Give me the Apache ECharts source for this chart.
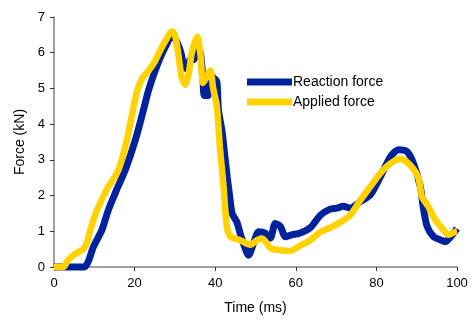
<!DOCTYPE html>
<html>
<head>
<meta charset="utf-8">
<script src="https://cdn.jsdelivr.net/npm/echarts@6/dist/echarts.min.js"></script>
<style>
  html, body { margin: 0; padding: 0; background: #fff; }
  #chart { width: 473px; height: 320px; }
</style>
</head>
<body>
<div id="chart"></div>
<script>
// time (ms) and force (kN)
const reactionTime = [0, 4, 7.5, 8.5, 9.8, 11.9, 13.5, 15.5, 17.7, 20.2, 22.2, 23.5, 25.1, 26.5, 28, 29.3,
  30.5, 31.5, 32.3, 33, 33.8, 34.6, 35.5, 36.3, 37, 37.3, 38.3, 38.8, 39.5, 40.4, 40.8, 41.7, 42.3, 43, 43.7, 44.2,
  45.4, 46.2, 47, 48.3, 49.5, 50.8, 52.4, 53.7, 54.9, 56.2, 57.4, 59, 61.1, 63.6, 66.1, 68.5, 70.2, 71.8, 73.5,
  76, 78.5, 81, 83.5, 85.5, 87.6, 89.2, 90.9, 91.6, 92.6, 94.2, 95.9, 97.1, 98.8, 100];
const reactionForce = [0, 0, 0, 0.15, 0.57, 1.04, 1.6, 2.15, 2.72, 3.56, 4.4, 4.96, 5.5, 5.9, 6.25, 6.5,
  6.3, 6.0, 5.6, 5.55, 5.8, 5.8, 6.1, 6.0, 5.2, 4.8, 4.8, 5.4, 5.3, 5.2, 4.4, 3.8, 3.2, 2.5, 1.88, 1.5,
  1.25, 0.94, 0.66, 0.33, 0.66, 0.99, 0.95, 0.81, 1.22, 1.13, 0.85, 0.9, 0.95, 1.1, 1.45, 1.62, 1.65, 1.7, 1.65,
  1.83, 2.02, 2.53, 3.09, 3.28, 3.23, 2.9, 2.25, 1.69, 1.13, 0.85, 0.76, 0.71, 0.9, 1.08];

const appliedTime = [0, 2.3, 3.5, 4.5, 6, 7.3, 8.2, 9, 10.7, 13, 16, 18.1, 19.6, 20.7, 22, 23.5, 25, 26.5, 28, 29.3,
  30, 30.8, 31.7, 32.6, 33.4, 34.2, 35.5, 36.3, 37, 37.8, 38.8, 39.5, 40.4, 41.2, 42, 42.9, 43.8, 46.2, 48.7,
  50.4, 51.6, 52.6, 53.7, 56.2, 58.6, 61.1, 63.6, 66.1, 68.5, 71, 73.5, 76, 78.5, 81, 83.5, 86, 88.4, 90.4,
  91.3, 92.9, 94.6, 96.6, 97.8, 99.6, 100];
const appliedForce = [0, 0, 0.2, 0.3, 0.42, 0.5, 0.7, 1.04, 1.6, 2.15, 2.72, 3.56, 4.4, 4.96, 5.3, 5.5, 5.75, 6.1, 6.4, 6.6,
  6.5, 6.0, 5.3, 5.1, 5.4, 6.0, 6.45, 6.0, 5.15, 5.3, 5.5, 5.0, 4.5, 3.3, 2.35, 1.13, 0.85, 0.75, 0.62,
  0.75, 0.8, 0.7, 0.52, 0.47, 0.45, 0.6, 0.75, 0.98, 1.1, 1.25, 1.45, 1.87, 2.25, 2.63, 2.9, 3.03, 2.85, 2.5,
  1.97, 1.69, 1.32, 1.04, 0.9, 0.99, 1.0];

const seriesNames = ['Reaction force', 'Applied force'];
const xTicks = { min: 0, max: 100, interval: 20 };
const yTicks = { min: 0, max: 7, interval: 1 };

const pairs = (xs, ys) => xs.map((x, i) => [x, ys[i]]);

const chart = echarts.init(document.getElementById('chart'));
const font = 'Liberation Sans, Arial, sans-serif';
const axisGray = '#808080';

chart.setOption({
  animation: false,
  backgroundColor: '#fff',
  grid: { left: 54, right: 16, top: 17, bottom: 53 },
  legend: {
    orient: 'vertical',
    left: 247,
    top: 75,
    padding: 0,
    icon: 'rect',
    itemWidth: 45,
    itemHeight: 7,
    itemGap: 6,
    textStyle: { fontFamily: font, fontSize: 14, color: '#000', lineHeight: 14, padding: [0, 0, 0, -4] },
    data: seriesNames,
  },
  xAxis: {
    type: 'value',
    min: xTicks.min,
    max: xTicks.max,
    interval: xTicks.interval,
    name: 'Time (ms)',
    nameLocation: 'middle',
    nameGap: 34,
    nameTextStyle: { fontFamily: font, fontSize: 14, color: '#000' },
    axisLine: { lineStyle: { color: axisGray, width: 1.5 } },
    axisTick: { show: true, length: 4, lineStyle: { color: '#333' } },
    axisLabel: { fontFamily: font, fontSize: 13, color: '#000', margin: 10 },
    splitLine: { show: false },
  },
  yAxis: {
    type: 'value',
    min: yTicks.min,
    max: yTicks.max,
    interval: yTicks.interval,
    name: 'Force (kN)',
    nameLocation: 'middle',
    nameGap: 27,
    nameTextStyle: { fontFamily: font, fontSize: 14, color: '#000' },
    axisLine: { show: true, lineStyle: { color: axisGray, width: 1.5 } },
    axisTick: { show: true, length: 4, lineStyle: { color: '#333' } },
    axisLabel: { fontFamily: font, fontSize: 13, color: '#000', margin: 9 },
    splitLine: { show: false },
  },
  series: [
    {
      name: seriesNames[0],
      type: 'line',
      symbol: 'none',
      smooth: 0.25,
      clip: false,
      lineStyle: { color: '#00229C', width: 7 },
      itemStyle: { color: '#00229C' },
      data: pairs(reactionTime, reactionForce),
    },
    {
      name: seriesNames[1],
      type: 'line',
      symbol: 'none',
      smooth: 0.25,
      clip: false,
      lineStyle: { color: '#FFD200', width: 6.5 },
      itemStyle: { color: '#FFD200' },
      data: pairs(appliedTime, appliedForce),
    },
  ],
});
</script>
</body>
</html>
